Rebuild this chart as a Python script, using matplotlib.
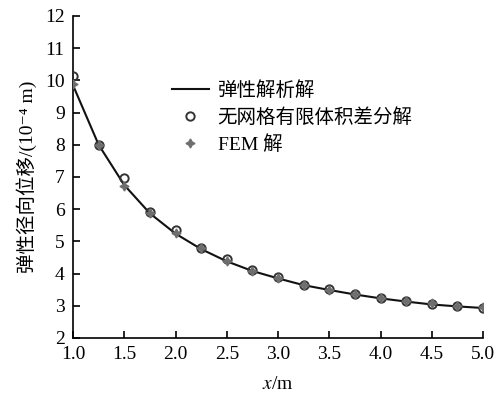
import matplotlib
matplotlib.use("Agg")
import matplotlib.pyplot as plt

# radial position (m)
x = [1.0, 1.25, 1.5, 1.75, 2.0, 2.25, 2.5, 2.75, 3.0,
     3.25, 3.5, 3.75, 4.0, 4.25, 4.5, 4.75, 5.0]
# radial displacement (1e-4 m)
analytic = [9.85, 8.00, 6.75, 5.87, 5.24, 4.76, 4.38, 4.08, 3.85,
            3.64, 3.49, 3.35, 3.23, 3.13, 3.04, 2.98, 2.93]
meshless = [10.14, 8.00, 6.96, 5.92, 5.35, 4.78, 4.46, 4.10, 3.88,
            3.66, 3.51, 3.36, 3.24, 3.14, 3.05, 2.99, 2.94]
fem = [9.89, 7.98, 6.73, 5.88, 5.27, 4.78, 4.39, 4.09, 3.86,
       3.65, 3.50, 3.36, 3.24, 3.14, 3.07, 3.00, 2.96]

labels = ["弹性解析解", "无网格有限体积差分解", "FEM 解"]
xticks = [1.0, 1.5, 2.0, 2.5, 3.0, 3.5, 4.0, 4.5, 5.0]
yticks = list(range(2, 13))

serif = ["Liberation Serif", "Noto Sans CJK SC", "DejaVu Sans"]
plt.rcParams["font.family"] = serif
plt.rcParams["mathtext.fontset"] = "stix"

fig = plt.figure(figsize=(5.0, 3.99), dpi=100)
ax = fig.add_axes([0.146, 0.153, 0.82, 0.807])

ax.plot(x, analytic, "-", color="#111111", lw=1.5, label=labels[0], zorder=2)
ax.plot(x, meshless, "o", ms=6, mfc="none", mec="#333333", mew=1.4,
        label=labels[1], zorder=3)
ax.plot(x, fem, ls="none", marker=(4, 1, 0), ms=6.5, color="#6e6e6e",
        label=labels[2], zorder=4)

ax.set_xlim(1.0, 5.0)
ax.set_ylim(2, 12)
ax.set_xticks(xticks)
ax.set_xticklabels([f"{v:.1f}" for v in xticks])
ax.set_yticks(yticks)
for s in ("top", "right"):
    ax.spines[s].set_visible(False)
for s in ("left", "bottom"):
    ax.spines[s].set_linewidth(1.2)
ax.tick_params(direction="in", length=5, width=1.2, labelsize=14, pad=6)

ax.set_xlabel("$x$/m", fontsize=14, labelpad=9)
ax.set_ylabel("弹性径向位移/(10⁻⁴ m)", fontsize=14, labelpad=6)

ax.legend(loc="upper left", bbox_to_anchor=(0.344, 0.797),
          bbox_transform=fig.transFigure, frameon=False, fontsize=14,
          borderpad=0, borderaxespad=0, handlelength=1.9,
          handletextpad=0.45, labelspacing=0.42)

fig.savefig("out.png", dpi=100)
